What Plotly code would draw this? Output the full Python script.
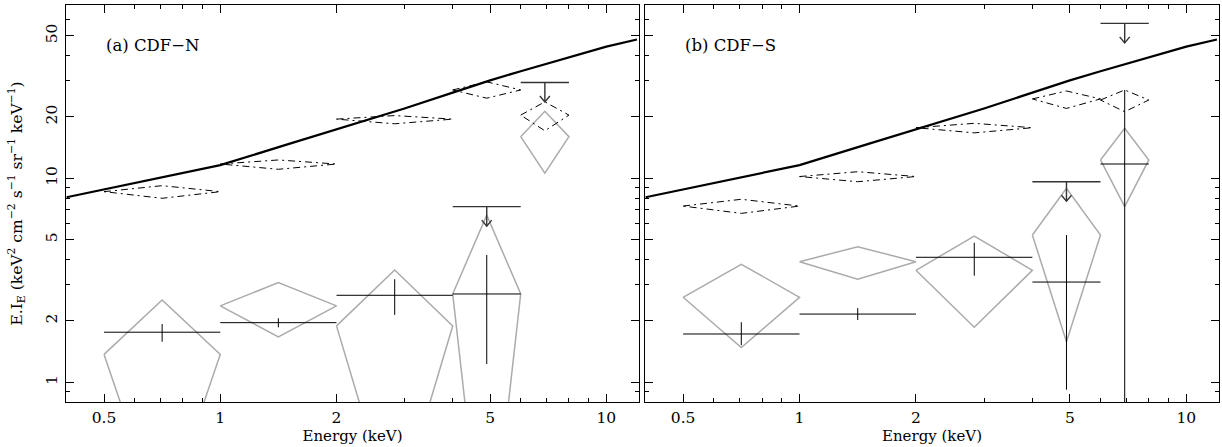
import numpy as np
import plotly.graph_objects as go

# ---------------- data ----------------
energy_lo = [0.5, 1.0, 2.0, 4.0, 6.0]
energy_hi = [1.0, 2.0, 4.0, 6.0, 8.0]
energy_mid = [0.707, 1.414, 2.83, 4.9, 6.93]

# total background curve (same in both panels)
line_energy = [0.4, 1.0, 1.5, 2.0, 3.0, 4.0, 5.0, 6.0, 7.0, 8.0, 10.0, 12.0]
line_flux = [8.07, 11.6, 14.7, 17.4, 22.0, 26.3, 30.2, 33.5, 36.5, 39.3, 44.2, 47.9]

# CDF-N
n_dash_val = [8.6, 11.75, 19.5, 27.1, 20.4]
n_dash_hi = [9.2, 12.3, 20.3, 29.7, 23.7]
n_dash_lo = [7.98, 11.07, 18.5, 24.7, 17.1]
n_gray_val = [1.37, 2.37, 1.89, 2.71, 16.0]
n_gray_hi = [2.53, 3.08, 3.55, 6.6, 21.3]
n_gray_lo = [0.2, 1.67, 0.21, 0.09, 10.6]
n_cross_bins = [0, 1, 2, 3]
n_cross_val = [1.76, 1.96, 2.67, 2.71]
n_cross_hi = [1.93, 2.06, 3.2, 4.21]
n_cross_lo = [1.58, 1.86, 2.14, 1.23]
n_ul_bins = [3, 4]
n_ul_val = [7.26, 29.5]

# CDF-S
s_dash_val = [7.31, 10.2, 17.7, 24.5, 24.2]
s_dash_hi = [7.89, 10.77, 18.6, 26.8, 27.1]
s_dash_lo = [6.73, 9.62, 16.7, 22.0, 21.2]
s_gray_val = [2.61, 3.90, 3.54, 5.27, 12.3]
s_gray_hi = [3.79, 4.62, 5.21, 8.93, 17.6]
s_gray_lo = [1.48, 3.20, 1.86, 1.58, 7.26]
s_cross_bins = [0, 1, 2, 3, 4]
s_cross_val = [1.725, 2.16, 4.10, 3.10, 11.75]
s_cross_hi = [1.97, 2.31, 4.83, 5.27, 27.1]
s_cross_lo = [1.52, 2.02, 3.33, 0.92, 0.1]
s_ul_bins = [3, 4]
s_ul_val = [9.62, 57.5]

x_major = [0.5, 1, 2, 5, 10]
x_major_text = ["0.5", "1", "2", "5", "10"]
x_minor = [0.4, 0.6, 0.7, 0.8, 0.9, 3, 4, 6, 7, 8, 9]
y_major = [1, 2, 5, 10, 20, 50]
y_major_text = ["1", "2", "5", "10", "20", "50"]
y_minor = [0.9, 3, 4, 6, 7, 8, 9, 30, 40, 60, 70]

# ---------------- layout constants ----------------
W, H = 1222, 447
ML, MR, MT, MB = 66, 3, 5, 45
XR = [np.log10(0.3985), np.log10(12.15)]
YR = [-0.0966, 1.8495]
plot_w = W - ML - MR
dom1 = [0.0, 573 / plot_w]
dom2 = [579 / plot_w, 1.0]
xdec_px = 573 / (XR[1] - XR[0])
ydec_px = (H - MT - MB) / (YR[1] - YR[0])

FONT = "DejaVu Serif"


def diamonds(vals, his, los):
    xs, ys = [], []
    for i in range(len(vals)):
        xs += [energy_lo[i], energy_mid[i], energy_hi[i], energy_mid[i], energy_lo[i], None]
        ys += [vals[i], his[i], vals[i], los[i], vals[i], None]
    return xs, ys


def crosses(bins, vals, his, los):
    xs, ys = [], []
    for b, v, h, l in zip(bins, vals, his, los):
        xs += [energy_lo[b], energy_hi[b], None, energy_mid[b], energy_mid[b], None]
        ys += [v, v, None, l, h, None]
    return xs, ys


def upper_limits(bins, vals):
    fy = 10 ** (-19.5 / ydec_px)
    fa = 10 ** (6 / ydec_px)
    fx = 10 ** (5 / xdec_px)
    xs, ys = [], []
    for b, v in zip(bins, vals):
        m = energy_mid[b]
        tip = v * fy
        xs += [energy_lo[b], energy_hi[b], None, m, m, None,
               m / fx, m, m * fx, None]
        ys += [v, v, None, v, tip, None, tip * fa, tip, tip * fa, None]
    return xs, ys


fig = go.Figure()

panels = [
    ("x", "y", n_dash_val, n_dash_hi, n_dash_lo, n_gray_val, n_gray_hi, n_gray_lo,
     n_cross_bins, n_cross_val, n_cross_hi, n_cross_lo, n_ul_bins, n_ul_val),
    ("x2", "y2", s_dash_val, s_dash_hi, s_dash_lo, s_gray_val, s_gray_hi, s_gray_lo,
     s_cross_bins, s_cross_val, s_cross_hi, s_cross_lo, s_ul_bins, s_ul_val),
]

for (xa, ya, dv, dh, dl, gv, gh, gl, cb, cv, ch, cl, ub, uv) in panels:
    gx, gy = diamonds(gv, gh, gl)
    fig.add_trace(go.Scatter(x=gx, y=gy, mode="lines", xaxis=xa, yaxis=ya,
                             line=dict(color="#ababab", width=1.5), hoverinfo="skip"))
    dx, dy = diamonds(dv, dh, dl)
    fig.add_trace(go.Scatter(x=dx, y=dy, mode="lines", xaxis=xa, yaxis=ya,
                             line=dict(color="black", width=1, dash="7px,4px,2px,4px"),
                             hoverinfo="skip"))
    cx, cy = crosses(cb, cv, ch, cl)
    fig.add_trace(go.Scatter(x=cx, y=cy, mode="lines", xaxis=xa, yaxis=ya,
                             line=dict(color="black", width=1), hoverinfo="skip"))
    ux, uy = upper_limits(ub, uv)
    fig.add_trace(go.Scatter(x=ux, y=uy, mode="lines", xaxis=xa, yaxis=ya,
                             line=dict(color="#333333", width=1.4), hoverinfo="skip"))
    fig.add_trace(go.Scatter(x=line_energy, y=line_flux, mode="lines", xaxis=xa, yaxis=ya,
                             line=dict(color="black", width=2.2), hoverinfo="skip"))

axis_common = dict(
    type="log", showline=True, linecolor="black", linewidth=1, mirror="ticks",
    ticks="inside", ticklen=8, tickwidth=1, tickcolor="black", showgrid=False,
    zeroline=False, automargin=False,
    tickfont=dict(family=FONT, size=15.5, color="black"),
)

xaxis_common = dict(axis_common, range=XR, tickvals=x_major, ticktext=x_major_text,
                    minor=dict(tickvals=x_minor, ticks="inside", ticklen=4,
                               tickcolor="black", tickwidth=1),
                    ticklabelstandoff=1,
                    title=dict(text="Energy (keV)", font=dict(family=FONT, size=15, color="black"),
                               standoff=2))

yaxis_common = dict(axis_common, range=YR, tickvals=y_major, ticktext=y_major_text,
                    minor=dict(tickvals=y_minor, ticks="inside", ticklen=4,
                               tickcolor="black", tickwidth=1),
                    tickangle=-90, ticklabelstandoff=2)

fig.update_layout(
    width=W, height=H,
    margin=dict(l=ML, r=MR, t=MT, b=MB, autoexpand=False),
    paper_bgcolor="white", plot_bgcolor="white",
    showlegend=False,
    xaxis=dict(xaxis_common, domain=dom1, anchor="y"),
    xaxis2=dict(xaxis_common, domain=dom2, anchor="y2"),
    yaxis=dict(yaxis_common, anchor="x"),
    yaxis2=dict(yaxis_common, anchor="x2", showticklabels=False),
    annotations=[
        dict(text="(a) CDF\u2212N", x=np.log10(0.5), y=np.log10(45), xref="x", yref="y",
             xanchor="left", yanchor="middle", showarrow=False,
             font=dict(family=FONT, size=16.5, color="black")),
        dict(text="(b) CDF\u2212S", x=np.log10(0.5), y=np.log10(45), xref="x2", yref="y2",
             xanchor="left", yanchor="middle", showarrow=False,
             font=dict(family=FONT, size=16.5, color="black")),
        dict(text="E.I<sub>E</sub> (keV<sup>2</sup> cm<sup>\u22122</sup> s<sup>\u22121</sup> "
                  "sr<sup>\u22121</sup> keV<sup>\u22121</sup>)",
             x=-(ML - 17) / plot_w, y=0.5, xref="paper", yref="paper",
             xanchor="center", yanchor="middle", textangle=-90, showarrow=False,
             font=dict(family=FONT, size=15.5, color="black")),
    ],
)

fig.write_html("out.html", config={"displayModeBar": False},
               post_script="document.body.style.margin='0';document.body.style.overflow='hidden';")
